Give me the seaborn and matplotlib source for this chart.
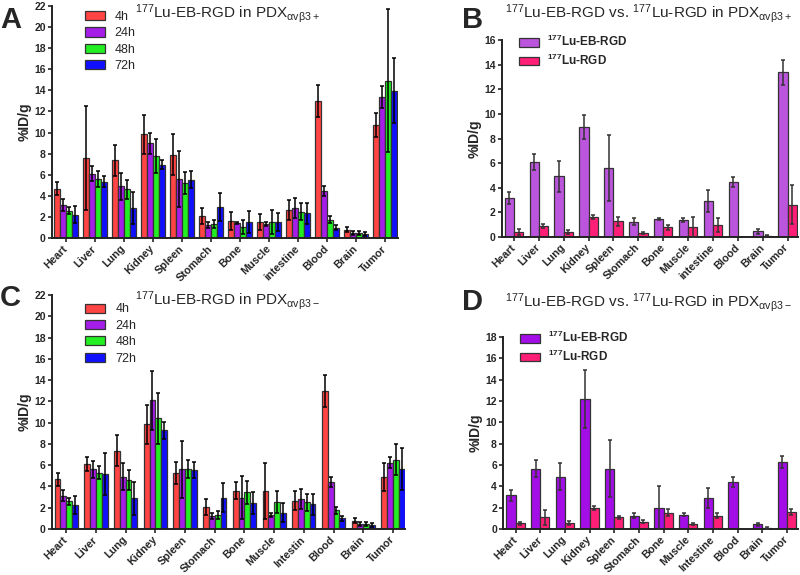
import numpy as np
import pandas as pd
import matplotlib
matplotlib.use('Agg')
import matplotlib.pyplot as plt
import seaborn as sns
from matplotlib.patches import Patch

sns.set_style('ticks')
plt.rcParams['font.family'] = ['Liberation Sans', 'DejaVu Sans']
plt.rcParams['mathtext.fontset'] = 'custom'
plt.rcParams['mathtext.rm'] = 'Liberation Sans'
plt.rcParams['mathtext.bf'] = 'Liberation Sans:bold'

# organ labels (panel C has the truncated "Intestin")
organs_a = ['Heart', 'Liver', 'Lung', 'Kidney', 'Spleen', 'Stomach', 'Bone',
            'Muscle', 'intestine', 'Blood', 'Brain', 'Tumor']
organs_c = ['Heart', 'Liver', 'Lung', 'Kidney', 'Spleen', 'Stomach', 'Bone',
            'Muscle', 'Intestin', 'Blood', 'Brain', 'Tumor']
organs_d = ['Heart', 'Liver', 'Lung', 'Kidney', 'Spleen', 'Stomach', 'Bone',
            'Muscle', 'Intestine', 'Blood', 'Brain', 'Tumor']
times = ['4h', '24h', '48h', '72h']
tracers = ['EB', 'RGD']

# A: 177Lu-EB-RGD in PDX avb3+  (%ID/g, mean and sd)
a_4h = [4.68, 7.6, 7.37, 9.84, 7.9, 2.06, 1.61, 1.52, 2.66, 13.0, 0.79, 10.74]
a_4h_sd = [0.62, 4.9, 1.49, 1.86, 1.94, 0.76, 0.83, 0.73, 0.92, 1.5, 0.25, 1.16]
a_24h = [3.13, 6.1, 4.9, 9.0, 5.63, 1.23, 1.42, 1.36, 2.85, 4.43, 0.47, 13.36]
a_24h_sd = [0.57, 0.7, 1.3, 1.0, 2.67, 0.27, 0.13, 0.19, 0.95, 0.47, 0.16, 1.04]
a_48h = [2.6, 5.6, 4.65, 7.8, 5.22, 1.33, 1.04, 1.52, 2.5, 1.74, 0.44, 14.93]
a_48h_sd = [0.3, 0.8, 0.9, 1.6, 1.05, 0.35, 0.7, 1.11, 0.82, 0.32, 0.19, 6.77]
a_72h = [2.2, 5.35, 2.85, 6.96, 5.54, 2.94, 1.49, 1.52, 2.34, 1.0, 0.38, 13.99]
a_72h_sd = [0.8, 0.5, 1.55, 0.44, 0.79, 1.36, 1.04, 0.85, 0.98, 0.23, 0.16, 3.11]

# C: 177Lu-EB-RGD in PDX avb3-
c_4h = [4.66, 6.08, 7.37, 9.84, 5.25, 2.06, 3.6, 3.55, 2.66, 13.0, 0.79, 4.9]
c_4h_sd = [0.64, 0.67, 1.47, 1.81, 1.05, 0.76, 0.8, 2.65, 0.92, 1.5, 0.25, 1.3]
c_24h = [3.14, 5.6, 4.9, 12.1, 5.6, 1.23, 2.95, 1.36, 2.85, 4.43, 0.47, 6.25]
c_24h_sd = [0.54, 0.78, 1.28, 2.75, 2.7, 0.27, 2.05, 0.19, 0.95, 0.47, 0.16, 0.55]
c_48h = [2.62, 5.3, 4.64, 10.4, 5.65, 1.33, 3.45, 2.55, 2.5, 1.74, 0.44, 6.5]
c_48h_sd = [0.32, 0.58, 0.93, 2.4, 0.85, 0.35, 1.1, 1.05, 0.82, 0.32, 0.19, 1.45]
c_72h = [2.24, 5.18, 2.88, 9.29, 5.55, 2.94, 2.45, 1.52, 2.34, 1.0, 0.38, 5.65]
c_72h_sd = [0.82, 2.0, 1.53, 0.81, 0.78, 1.36, 1.05, 0.88, 0.98, 0.23, 0.16, 2.0]

# B: EB-RGD vs RGD in PDX avb3+
b_eb = [3.16, 6.08, 4.92, 8.97, 5.62, 1.24, 1.46, 1.38, 2.89, 4.46, 0.46, 13.38]
b_eb_sd = [0.52, 0.65, 1.28, 0.98, 2.68, 0.27, 0.08, 0.16, 0.89, 0.4, 0.19, 1.02]
b_rgd = [0.4, 0.89, 0.4, 1.62, 1.27, 0.35, 0.78, 0.78, 0.95, 0.03, 0.1, 2.62]
b_rgd_sd = [0.25, 0.19, 0.14, 0.19, 0.35, 0.08, 0.22, 0.84, 0.59, 0.0, 0.05, 1.58]

# D: EB-RGD vs RGD in PDX avb3-
d_eb = [3.14, 5.63, 4.92, 12.15, 5.63, 1.26, 1.97, 1.35, 2.89, 4.43, 0.46, 6.28]
d_eb_sd = [0.52, 0.8, 1.28, 2.71, 2.67, 0.24, 2.03, 0.15, 0.91, 0.47, 0.14, 0.55]
d_rgd = [0.52, 1.08, 0.55, 1.97, 1.08, 0.68, 1.54, 0.46, 1.26, 0.02, 0.12, 1.6]
d_rgd_sd = [0.13, 0.67, 0.19, 0.21, 0.12, 0.12, 0.34, 0.12, 0.24, 0.0, 0.08, 0.3]

time_colors = ['#ff4444', '#a51ee8', '#22ee22', '#1010ff']
b_colors = ['#bb55dd', '#ff1f77']
d_colors = ['#a30ee6', '#ff1f77']


def draw(ax, cats, groups, means, sds, colors, width, ecolor, ymax, xlim):
    df = pd.DataFrame({'organ': np.tile(cats, len(groups)),
                       'group': np.repeat(groups, len(cats)),
                       'value': np.concatenate(means)})
    sns.barplot(data=df, x='organ', y='value', hue='group', hue_order=groups,
                palette=colors, width=width, errorbar=None, saturation=1,
                edgecolor='#333333', linewidth=0.9, legend=False, ax=ax)
    sd = np.concatenate(sds)
    for p, e in zip(ax.patches, sd):
        if e > 0:
            ax.errorbar(p.get_x() + p.get_width() / 2, p.get_height(), yerr=e,
                        fmt='none', ecolor=ecolor, elinewidth=1.1, capsize=1.6,
                        capthick=1.1, zorder=3)
    sns.despine(ax=ax)
    ax.set_ylim(0, ymax)
    ax.set_yticks(range(0, ymax + 1, 2))
    ax.set_xlim(*xlim)
    ax.set_xlabel('')
    ax.set_ylabel('%ID/g', fontsize=10, fontweight='bold', labelpad=2)
    ax.tick_params(axis='both', length=3, width=1.2, pad=1.5)
    ax.tick_params(axis='y', labelsize=7.5)
    ax.tick_params(axis='x', labelsize=7.8, pad=3.5)
    for lab in ax.get_xticklabels():
        lab.set_rotation(45)
        lab.set_ha('right')
        lab.set_va('center')
        lab.set_rotation_mode('anchor')
        lab.set_fontweight('bold')
    for lab in ax.get_yticklabels():
        lab.set_fontweight('bold')
    for s in ['left', 'bottom']:
        ax.spines[s].set_linewidth(1.4)
        ax.spines[s].set_color('#222222')


fig = plt.figure(figsize=(8, 5.75), dpi=100)

ax_a = fig.add_axes([0.065, 0.586, 0.4325, 0.4035])
draw(ax_a, organs_a, times, [a_4h, a_24h, a_48h, a_72h],
     [a_4h_sd, a_24h_sd, a_48h_sd, a_72h_sd], time_colors, 0.83, 'black',
     22, (-0.48, 11.45))

ax_c = fig.add_axes([0.065, 0.08, 0.441, 0.407])
draw(ax_c, organs_c, times, [c_4h, c_24h, c_48h, c_72h],
     [c_4h_sd, c_24h_sd, c_48h_sd, c_72h_sd], time_colors, 0.78, 'black',
     22, (-0.48, 11.4))

ax_b = fig.add_axes([0.6275, 0.588, 0.37, 0.342])
draw(ax_b, organs_a, tracers, [b_eb, b_rgd], [b_eb_sd, b_rgd_sd],
     b_colors, 0.74, '#333333', 16, (-0.48, 11.42))

ax_d = fig.add_axes([0.629, 0.08, 0.3685, 0.334])
draw(ax_d, organs_d, tracers, [d_eb, d_rgd], [d_eb_sd, d_rgd_sd],
     d_colors, 0.74, '#333333', 18, (-0.5, 11.45))

# legends
for ax, x0, y0 in [(ax_a, 0.08, 1.0), (ax_c, 0.08, 0.985)]:
    hs = [Patch(facecolor=c, edgecolor='#333333', linewidth=0.9) for c in time_colors]
    ax.legend(hs, times, loc='upper left', bbox_to_anchor=(x0, y0), frameon=False,
              fontsize=9, handlelength=1.6, handleheight=0.75, labelspacing=0.35,
              handletextpad=0.8, borderaxespad=0)

tr_labels = [r'$\mathbf{^{177}}$Lu-EB-RGD', r'$\mathbf{^{177}}$Lu-RGD']
for ax, cols, y0 in [(ax_b, b_colors, 1.055), (ax_d, d_colors, 1.06)]:
    hs = [Patch(facecolor=c, edgecolor='#333333', linewidth=0.9) for c in cols]
    ax.legend(hs, tr_labels, loc='upper left', bbox_to_anchor=(0.04, y0),
              frameon=False, prop={'weight': 'bold', 'size': 8.5},
              handlelength=1.7, handleheight=0.75, labelspacing=0.3,
              handletextpad=0.7, borderaxespad=0)

# titles and panel letters
fig.text(0.284, 0.977, r'$\mathregular{^{177}}$Lu-EB-RGD in PDX$\mathregular{_{\alpha v\beta 3+}}$',
         ha='center', va='center', fontsize=11)
fig.text(0.811, 0.977, r'$\mathregular{^{177}}$Lu-EB-RGD vs. $\mathregular{^{177}}$Lu-RGD in PDX$\mathregular{_{\alpha v\beta 3+}}$',
         ha='center', va='center', fontsize=11)
fig.text(0.284, 0.478, r'$\mathregular{^{177}}$Lu-EB-RGD in PDX$\mathregular{_{\alpha v\beta 3-}}$',
         ha='center', va='center', fontsize=11)
fig.text(0.811, 0.474, r'$\mathregular{^{177}}$Lu-EB-RGD vs. $\mathregular{^{177}}$Lu-RGD in PDX$\mathregular{_{\alpha v\beta 3-}}$',
         ha='center', va='center', fontsize=11)

for letter, x, y in [('A', 0.0, 0.965), ('B', 0.577, 0.965),
                     ('C', 0.0, 0.482), ('D', 0.577, 0.475)]:
    fig.text(x, y, letter, ha='left', va='center', fontsize=21, fontweight='bold')

fig.savefig('out.png', dpi=100)
